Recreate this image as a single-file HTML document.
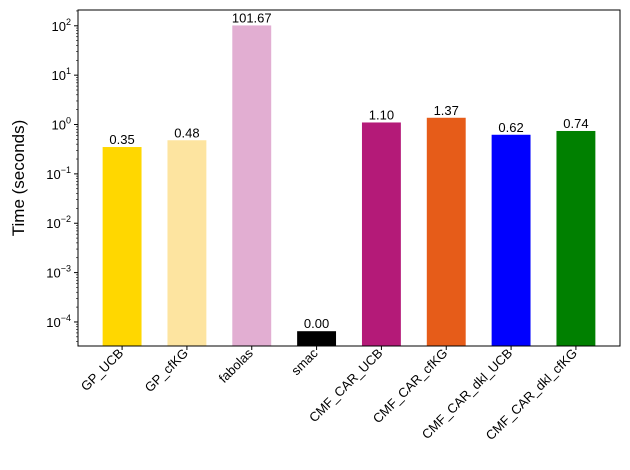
<!DOCTYPE html>
<html><head><meta charset="utf-8"><style>body{margin:0;background:#fff}svg{display:block;font-family:"Liberation Sans","DejaVu Sans",sans-serif}</style></head>
<body>
<svg id="c" width="630" height="470"></svg>
<script>
const categories=["GP_UCB","GP_cfKG","fabolas","smac","CMF_CAR_UCB","CMF_CAR_cfKG","CMF_CAR_dkl_UCB","CMF_CAR_dkl_cfKG"];
const values=[0.35,0.48,101.67,0.000065,1.10,1.37,0.62,0.74];
const valueLabels=["0.35","0.48","101.67","0.00","1.10","1.37","0.62","0.74"];
const colors=["#ffd700","#fde4a0","#e2aed2","#000000","#b41a78","#e65c19","#0000ff","#008000"];
const yTickExps=[-4,-3,-2,-1,0,1,2];
const L=78,R=620,T=10,B=346;
const ymin=-4.487,ymax=2.32,xmin=-0.68,xmax=7.68;
const ns="http://www.w3.org/2000/svg",svg=document.getElementById('c');
const X=v=>L+(v-xmin)/(xmax-xmin)*(R-L);
const Y=v=>B-(Math.log10(v)-ymin)/(ymax-ymin)*(B-T);
function mk(t,a,txt){const e=document.createElementNS(ns,t);for(const k in a)e.setAttribute(k,a[k]);if(txt!==undefined)e.textContent=txt;svg.appendChild(e);return e;}
categories.forEach((c,i)=>{
 const y=Y(values[i]);
 const r=mk('rect',{x:X(i-0.3),y:y,width:X(0.3)-X(-0.3),height:B-y,fill:colors[i]});
 
 
 const t=mk('text',{x:X(i),y:y-3,'text-anchor':'middle','font-size':13},valueLabels[i]);
 
 
 mk('line',{x1:X(i),x2:X(i),y1:B,y2:B+4,stroke:'#000'});
 const xl=mk('text',{transform:`translate(${X(i)+2},${B+8}) rotate(-45)`,'text-anchor':'end','font-size':13},c);
 
 
});
yTickExps.forEach(e=>{
 const y=Y(Math.pow(10,e));
 mk('line',{x1:L-4,x2:L,y1:y,y2:y,stroke:'#000'});
 const t=mk('text',{x:L-7,y:y+5,'text-anchor':'end','font-size':13});
 
 
 t.innerHTML='10<tspan dy="-6" font-size="9">'+(e<0?'\u2212'+(-e):e)+'</tspan>';
});
for(let e=-5;e<=2;e++)for(let m=2;m<10;m++){const v=m*Math.pow(10,e);const l=Math.log10(v);if(l<ymin||l>ymax)continue;const y=Y(v);mk('line',{x1:L-2,x2:L,y1:y,y2:y,stroke:'#000','stroke-width':0.6});}
const f=mk('rect',{x:L,y:T,width:R-L,height:B-T,fill:'none',stroke:'#000','stroke-width':1});


const yl=mk('text',{transform:`translate(24,${(T+B)/2}) rotate(-90)`,'text-anchor':'middle','font-size':17},'Time (seconds)');


</script>
</body></html>
